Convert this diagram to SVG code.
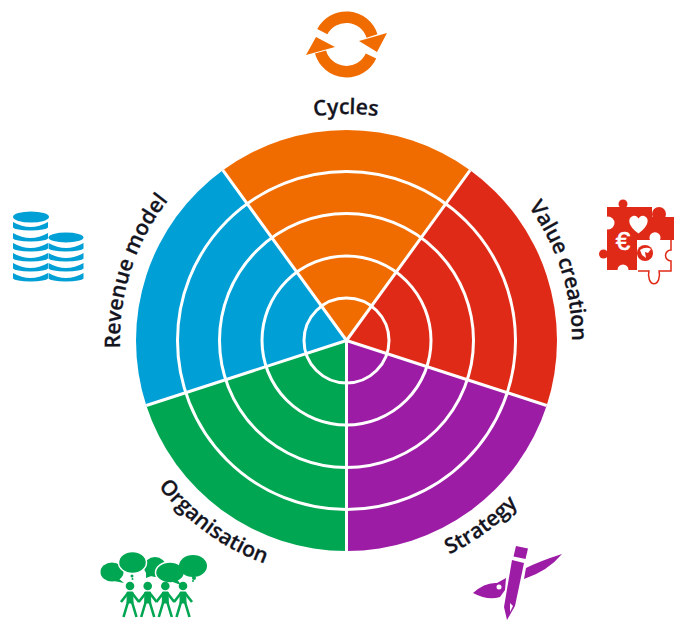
<svg xmlns="http://www.w3.org/2000/svg" width="674" height="620" viewBox="0 0 674 620">
<style>
.ring{fill:none;stroke:#fff;stroke-width:3}
.spoke{stroke:#fff;stroke-width:3}
.lbl{font-family:"Open Sans","Liberation Sans",sans-serif;font-weight:600;font-size:21.300px;fill:#14141e;text-anchor:middle;stroke:#14141e;stroke-width:.25}
</style>
<defs>
<path id="arcTop" d="M120,340A226,226 0 0 1 572,340"/>
<path id="arcBot" d="M108,340A238,238 0 0 0 584,340"/>
<path id="coinL" d="M0,0Q17.500,10 35,0V5.500Q33,8 17.500,8.500Q2,8 0,5.500Z" fill="#00a0d6"/>
<g id="person" fill="none" stroke="#00a651">
<circle cx="0" cy="0" r="4.300" fill="#00a651" stroke="none"/>
<path d="M-2.800,6H2.800L3,17H-3Z" fill="#00a651" stroke-width="1"/>
<path d="M-2,7L-9,16M2,7L9,16M-2,16L-6.500,31M2,16L6.500,31" stroke-width="2.600"/>
</g>
</defs>
<g id="wheel">
<path id="seg-cycles" d="M346.500,340.500L222.800,170.200A210.500,210.500 0 0 1 470.200,170.200Z" fill="#f06c00"/>
<path id="seg-value" d="M346.500,340.500L470.200,170.200A210.500,210.500 0 0 1 546.700,405.500Z" fill="#e02a18"/>
<path id="seg-strategy" d="M346.500,340.500L546.700,405.500A210.500,210.500 0 0 1 346.500,551Z" fill="#9c1ca6"/>
<path id="seg-organisation" d="M346.500,340.500L346.500,551A210.500,210.500 0 0 1 146.300,405.500Z" fill="#00a651"/>
<path id="seg-revenue" d="M346.500,340.500L146.300,405.500A210.500,210.500 0 0 1 222.800,170.200Z" fill="#00a0d6"/>
<circle class="ring" cx="346.500" cy="340.500" r="42.500"/>
<circle class="ring" cx="346.500" cy="340.500" r="84.500"/>
<circle class="ring" cx="346.500" cy="340.500" r="127"/>
<circle class="ring" cx="346.500" cy="340.500" r="169"/>
<path class="spoke" d="M346.500,340.500L222.800,170.200M346.500,340.500L470.200,170.200M346.500,340.500L546.700,405.500M346.500,340.500L346.500,551M346.500,340.500L146.300,405.500"/>
</g>
<g id="cycles">
<text class="lbl"><textPath href="#arcTop" startOffset="50%">Cycles</textPath></text>
<path d="M322.300,31.700A27,27 0 0 1 372,36M371,56A27,27 0 0 1 320.500,52" fill="none" stroke="#f06c00" stroke-width="11.500"/>
<path d="M387,33L359,41L377,52ZM306,55L316,37L335,47Z" fill="#f06c00"/>
</g>
<g id="value-creation">
<text class="lbl" letter-spacing="-.35" transform="rotate(72 346 340)"><textPath href="#arcTop" startOffset="50%">Value creation</textPath></text>
<g fill="#e02a18">
<path d="M607,207H652V217H674V242H660V271H638V270H607Z"/>
<circle cx="623" cy="204" r="4.500"/>
<circle cx="603.500" cy="254" r="4.500"/>
<circle cx="659" cy="214" r="7"/>
</g>
<g fill="#fff">
<circle cx="608" cy="223" r="6.500"/>
<circle cx="623" cy="270" r="5.500"/>
<path d="M607,215H603V232H607Z"/>
<path d="M618,271H628V274H618Z"/>
<path d="M637,240H650A5.500,5.500 0 1 1 660,240H674V271H637Z"/>
<path d="M638.500,233.500C628,226 627,218 633,216C635.500,215.300 637.500,216.800 638.500,218.500C639.500,216.800 642,215.300 644,216C650,218 649,226 638.500,233.500Z"/>
</g>
<path d="M638,271H649A5,4 0 1 0 659,271H671V261A5,5 0 0 1 671,250V240" fill="none" stroke="#e02a18" stroke-width="1.500"/>
<path d="M649,271A5.500,9 0 1 0 659,271" fill="#fff" stroke="#e02a18" stroke-width="1.500"/>
<text x="623" y="250" font-family="Liberation Sans,sans-serif" font-size="26" fill="#fff" stroke="#fff" stroke-width=".6" text-anchor="middle">€</text>
<circle cx="645" cy="253" r="8" fill="#e02a18"/>
<path d="M640,250Q646,246 651,249L648,253L645,252L646,258L642,255Z" fill="#fff"/>
</g>
<g id="strategy">
<text class="lbl" transform="rotate(-36 346 340)"><textPath href="#arcBot" startOffset="50%">Strategy</textPath></text>
<path d="M516,546L528,548.500L525.500,559L513.500,556.500Z" fill="#9c1ca6"/>
<path d="M512,560L524,563L515,606L507,620L504,607Z" fill="#9c1ca6"/>
<path d="M510,603L513,606L510,612Z" fill="#fff"/>
<path d="M562,554Q540,561 526,568L524,579Q548,571 562,554Z" fill="#9c1ca6"/>
<path d="M506,578L497,583Q485,582 473,593Q488,601 500,597L505,590Z" fill="#9c1ca6"/>
<circle cx="499" cy="587" r="2.500" fill="#fff"/>
</g>
<g id="organisation">
<text class="lbl" transform="rotate(36 346 340)"><textPath href="#arcBot" startOffset="50%">Organisation</textPath></text>
<g fill="#00a651">
<ellipse cx="112" cy="572" rx="11.500" ry="9.500"/>
<path d="M118,578L124,583L114,581Z"/>
<ellipse cx="155" cy="567" rx="11" ry="10"/>
<path d="M146,566L146,578L154,575Z"/>
<ellipse cx="170" cy="572.500" rx="14.500" ry="10.500" stroke="#fff" stroke-width="1.500"/>
<path d="M177,579L181,585L170,581Z"/>
<ellipse cx="132.500" cy="562.500" rx="14" ry="11" stroke="#fff" stroke-width="1.500"/>
<ellipse cx="193" cy="566" rx="14" ry="11"/>
<circle cx="132" cy="576" r="1.500"/><circle cx="132.500" cy="579" r="1"/>
<circle cx="194" cy="578" r="2"/><circle cx="193" cy="581" r="1"/>
</g>
<use href="#person" x="130" y="586"/>
<use href="#person" x="147.700" y="586"/>
<use href="#person" x="165.300" y="586"/>
<use href="#person" x="183" y="586"/>
</g>
<g id="revenue-model">
<text class="lbl" transform="rotate(-72 346 340)"><textPath href="#arcTop" startOffset="50%">Revenue model</textPath></text>
<ellipse cx="31" cy="217" rx="18" ry="5.500" fill="#00a0d6"/>
<use href="#coinL" x="13" y="222"/><use href="#coinL" x="13" y="233"/><use href="#coinL" x="13" y="243"/><use href="#coinL" x="13" y="253"/><use href="#coinL" x="13" y="263"/><use href="#coinL" x="13" y="273"/>
<ellipse cx="66" cy="237.500" rx="17.500" ry="5" fill="#00a0d6"/>
<use href="#coinL" x="48.500" y="243"/><use href="#coinL" x="48.500" y="253"/><use href="#coinL" x="48.500" y="263"/><use href="#coinL" x="48.500" y="273"/>
</g>
</svg>
